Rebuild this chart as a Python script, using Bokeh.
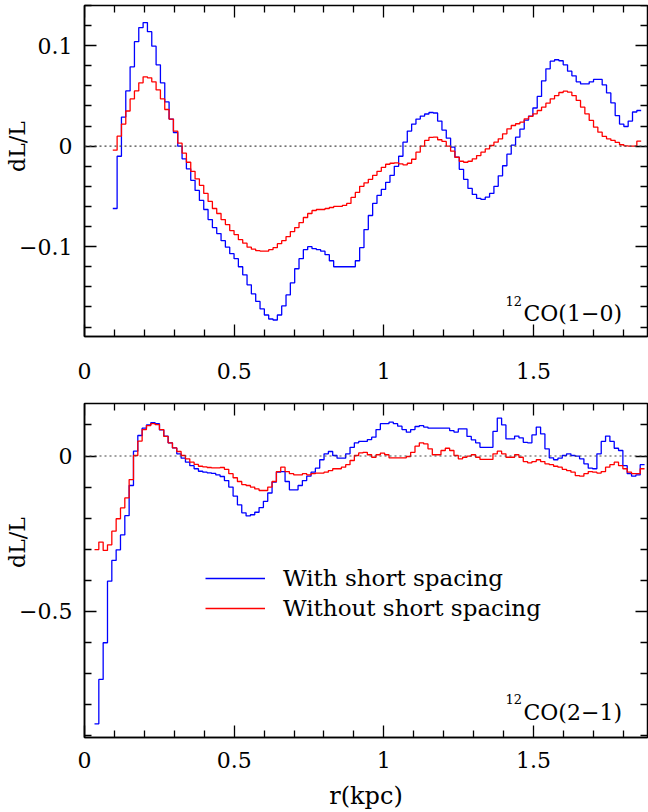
import numpy as np
from bokeh.plotting import figure
from bokeh.layouts import column
from bokeh.models import (Range1d, FixedTicker, LinearAxis, Span, Label,
                          Legend, LegendItem)
from bokeh.embed import file_html
from bokeh.resources import INLINE

# ---------------- data ----------------
R_TICKS = [0, 0.5, 1, 1.5]
R_TICK_LABELS = ["0", "0.5", "1", "1.5"]
R_MINOR = [0.1, 0.2, 0.3, 0.4, 0.6, 0.7, 0.8, 0.9, 1.1, 1.2, 1.3, 1.4, 1.6, 1.7, 1.8]
R_RANGE = (0, 1.881)

TOP_Y_RANGE = (-0.1894, 0.140)
TOP_Y_TICKS = [-0.1, 0, 0.1]
TOP_Y_TICK_LABELS = ["\u22120.1", "0", "0.1"]
TOP_Y_MINOR = [-0.18, -0.16, -0.14, -0.12, -0.08, -0.06, -0.04, -0.02,
               0.02, 0.04, 0.06, 0.08, 0.12, 0.14]

BOT_Y_RANGE = (-0.906, 0.169)
BOT_Y_TICKS = [-0.5, 0]
BOT_Y_TICK_LABELS = ["\u22120.5", "0"]
BOT_Y_MINOR = [-0.9, -0.8, -0.7, -0.6, -0.4, -0.3, -0.2, -0.1, 0.1]

BIN_WIDTH = 0.01447          # kpc, histogram bin width
TOP_R_START = 0.0945         # first bin edge, 12CO(1-0)
BOT_R_START = 0.0334         # first bin edge, 12CO(2-1)

TOP_WITH = [
    -0.062, -0.010, 0.029, 0.055, 0.079, 0.104, 0.118, 0.123, 0.114, 0.0995,
    0.081, 0.063, 0.044, 0.027, 0.0136, 0.000, -0.0126, -0.0225, -0.034, -0.044,
    -0.054, -0.063, -0.073, -0.081, -0.087, -0.094, -0.1005, -0.107, -0.112, -0.120,
    -0.128, -0.138, -0.147, -0.1545, -0.162, -0.168, -0.172, -0.173, -0.168, -0.159,
    -0.148, -0.136, -0.122, -0.112, -0.103, -0.100, -0.102, -0.103, -0.1045, -0.108,
    -0.114, -0.120, -0.120, -0.120, -0.120, -0.120, -0.114, -0.101, -0.083, -0.069,
    -0.057, -0.049, -0.043, -0.036, -0.029, -0.020, -0.010, 0.004, 0.015, 0.022,
    0.027, 0.030, 0.032, 0.0335, 0.033, 0.025, 0.016, 0.008, -0.001, -0.011,
    -0.023, -0.033, -0.042, -0.048, -0.052, -0.053, -0.0507, -0.047, -0.040, -0.0295,
    -0.0195, -0.008, 0.001, 0.009, 0.017, 0.026, 0.030, 0.038, 0.0495, 0.065,
    0.077, 0.0846, 0.086, 0.085, 0.081, 0.0746, 0.070, 0.064, 0.062, 0.062,
    0.064, 0.0664, 0.0664, 0.061, 0.053, 0.043, 0.0305, 0.022, 0.0196, 0.025,
    0.034, 0.0355,
]
TOP_WITHOUT = [
    -0.004, 0.010, 0.022, 0.035, 0.047, 0.055, 0.063, 0.069, 0.068, 0.064,
    0.056, 0.047, 0.0365, 0.027, 0.015, 0.003, -0.007, -0.016, -0.025, -0.0325,
    -0.039, -0.047, -0.055, -0.062, -0.067, -0.073, -0.078, -0.084, -0.088, -0.093,
    -0.0965, -0.1005, -0.1025, -0.104, -0.1045, -0.1045, -0.103, -0.101, -0.097, -0.094,
    -0.090, -0.085, -0.081, -0.076, -0.071, -0.067, -0.064, -0.063, -0.063, -0.062,
    -0.061, -0.060, -0.060, -0.059, -0.057, -0.051, -0.046, -0.040, -0.0365, -0.033,
    -0.029, -0.025, -0.021, -0.018, -0.017, -0.0166, -0.0176, -0.0186, -0.017, -0.013,
    -0.006, 0.000, 0.0057, 0.0087, 0.009, 0.0064, 0.0047, 0.000, -0.005, -0.011,
    -0.015, -0.016, -0.015, -0.0126, -0.0093, -0.006, -0.0027, 0.0007, 0.004, 0.0073,
    0.0123, 0.0173, 0.0206, 0.0223, 0.0239, 0.0272, 0.0296, 0.0322, 0.0355, 0.0388,
    0.0428, 0.0471, 0.0504, 0.0534, 0.0547, 0.0537, 0.0504, 0.0455, 0.0388, 0.0322,
    0.0256, 0.0189, 0.0139, 0.0097, 0.0073, 0.0057, 0.0037, 0.0014, 0.0004, 0.000,
    0.000, 0.005,
]
BOT_WITH = [
    -0.862, -0.719, -0.601, -0.403, -0.336, -0.302, -0.254, -0.192, -0.095, 0.0155,
    0.066, 0.0895, 0.100, 0.107, 0.104, 0.084, 0.064, 0.0425, 0.026, 0.007,
    -0.007, -0.020, -0.031, -0.041, -0.049, -0.052, -0.054, -0.056, -0.061, -0.066,
    -0.079, -0.100, -0.129, -0.157, -0.183, -0.193, -0.189, -0.181, -0.166, -0.146,
    -0.119, -0.084, -0.052, -0.050, -0.082, -0.109, -0.109, -0.095, -0.079, -0.065,
    -0.052, -0.039, -0.012, 0.007, 0.0145, 0.0016, -0.007, -0.007, 0.007, 0.028,
    0.0425, 0.047, 0.047, 0.053, 0.0605, 0.085, 0.104, 0.104, 0.109, 0.104,
    0.096, 0.085, 0.0766, 0.085, 0.095, 0.098, 0.093, 0.0895, 0.0895, 0.0895,
    0.0895, 0.0895, 0.082, 0.077, 0.0875, 0.0875, 0.063, 0.052, 0.0425, 0.028,
    0.028, 0.028, 0.079, 0.122, 0.100, 0.055, 0.055, 0.064, 0.0585, 0.044,
    0.0425, 0.068, 0.093, 0.071, 0.023, -0.006, -0.012, -0.007, 0.0016, 0.007,
    0.0016, -0.0005, -0.009, -0.025, -0.039, -0.041, 0.007, 0.047, 0.064, 0.047,
    0.025, 0.0177, -0.031, -0.057, -0.065, -0.061, -0.028,
]
BOT_WITHOUT = [
    -0.301, -0.277, -0.304, -0.286, -0.242, -0.202, -0.167, -0.135, -0.076, 0.0016,
    0.048, 0.085, 0.098, 0.104, 0.101, 0.085, 0.063, 0.0425, 0.026, 0.0145,
    0.0016, -0.009, -0.020, -0.027, -0.033, -0.035, -0.037, -0.038, -0.038, -0.037,
    -0.043, -0.057, -0.070, -0.082, -0.092, -0.095, -0.100, -0.106, -0.111, -0.111,
    -0.100, -0.082, -0.050, -0.036, -0.050, -0.057, -0.061, -0.061, -0.057, -0.061,
    -0.057, -0.055, -0.055, -0.052, -0.047, -0.041, -0.041, -0.036, -0.028, -0.0145,
    0.0016, 0.010, 0.012, 0.004, -0.004, 0.004, 0.009, 0.004, -0.006, -0.006,
    -0.006, -0.006, -0.0016, 0.012, 0.0315, 0.0425, 0.039, 0.023, 0.004, 0.004,
    0.0177, 0.025, 0.0177, 0.0016, -0.009, -0.004, -0.0005, 0.004, -0.004, -0.011,
    -0.011, -0.011, 0.007, 0.0155, 0.007, -0.004, -0.004, 0.004, -0.004, -0.018,
    -0.022, -0.018, -0.012, -0.018, -0.025, -0.028, -0.033, -0.036, -0.043, -0.047,
    -0.052, -0.063, -0.065, -0.057, -0.050, -0.052, -0.055, -0.050, -0.036, -0.028,
    -0.020, -0.031, -0.041, -0.052, -0.057, -0.057, -0.041,
]

SERIES_NAMES = ["With short spacing", "Without short spacing"]
PANEL_NAMES = [("12", "CO(1\u22120)"), ("12", "CO(2\u22121)")]
Y_LABEL = "dL/L"
X_LABEL = "r(kpc)"

# ---------------- styling ----------------
FONT = "DejaVu Serif"
BLUE = "#0000ff"
RED = "#ff0000"
TICK_COLOR = "black"
W = 648
NBSP = "\u00a0"


def edges(start, n):
    return start + BIN_WIDTH * np.arange(n + 1)


def tick_style(ax):
    ax.major_tick_in = 12
    ax.major_tick_out = 0
    ax.minor_tick_in = 7
    ax.minor_tick_out = 0
    ax.major_tick_line_color = TICK_COLOR
    ax.minor_tick_line_color = TICK_COLOR
    ax.major_tick_line_width = 1.3
    ax.minor_tick_line_width = 1.3
    ax.axis_line_color = "black"
    ax.axis_line_width = 1.5


def style_main_axis(ax, ticks, minor, labels, standoff):
    ax.ticker = FixedTicker(ticks=ticks, minor_ticks=minor)
    tick_style(ax)
    ax.major_label_overrides = {t: l for t, l in zip(ticks, labels)}
    ax.major_label_text_font = FONT
    ax.major_label_text_font_size = "22px"
    ax.major_label_text_color = "black"
    ax.major_label_standoff = standoff


def mirror_axes(p, side, ticks, minor, where):
    # tick marks only (no labels), pinned to the frame edge so they take no room
    a = LinearAxis(ticker=FixedTicker(ticks=[], minor_ticks=ticks), fixed_location=where)
    b = LinearAxis(ticker=FixedTicker(ticks=[], minor_ticks=minor), fixed_location=where)
    for ax, ln in ((a, 12), (b, 7)):
        tick_style(ax)
        ax.minor_tick_in = ln
        ax.major_label_standoff = 0
        ax.axis_line_color = None
        p.add_layout(ax, side)


def make_panel(height, border_bottom, yr, yticks, yminor, ylabels, x_standoff, pad):
    p = figure(width=W, height=height,
               x_range=Range1d(*R_RANGE), y_range=Range1d(*yr),
               output_backend="svg", toolbar_location=None,
               min_border_left=84, min_border_right=1,
               min_border_top=5, min_border_bottom=border_bottom)
    p.grid.visible = False
    p.outline_line_color = "black"
    p.outline_line_width = 1.5
    p.background_fill_color = "white"
    p.border_fill_color = "white"
    style_main_axis(p.below[0], R_TICKS, R_MINOR, R_TICK_LABELS, x_standoff)
    style_main_axis(p.left[0], yticks, yminor, ylabels, 12)
    mirror_axes(p, "above", R_TICKS, R_MINOR, yr[1])
    mirror_axes(p, "right", yticks, yminor, R_RANGE[1])
    ya = p.left[0]
    ya.axis_label = NBSP * pad + Y_LABEL
    ya.axis_label_text_font = FONT
    ya.axis_label_text_font_size = "22px"
    ya.axis_label_text_font_style = "normal"
    ya.axis_label_text_color = "black"
    ya.axis_label_standoff = -14
    p.add_layout(Span(location=0, dimension="width", line_color="#444444",
                      line_dash="2 3", line_width=1.2))
    return p


# ---- top panel: 12CO(1-0)
top = make_panel(398, 62, TOP_Y_RANGE, TOP_Y_TICKS, TOP_Y_MINOR,
                 TOP_Y_TICK_LABELS, 26, 7)
xt = edges(TOP_R_START, len(TOP_WITH))
top.step(xt, TOP_WITH + [TOP_WITH[-1]], mode="after", line_color=BLUE, line_width=1.3)
xt2 = edges(TOP_R_START, len(TOP_WITHOUT))
top.step(xt2, TOP_WITHOUT + [TOP_WITHOUT[-1]], mode="after", line_color=RED, line_width=1.3)
top.add_layout(Label(x=421, y=36, x_units="screen", y_units="screen",
                     text=PANEL_NAMES[0][0], text_font=FONT, text_font_size="13px",
                     text_color="black", text_baseline="alphabetic"))
top.add_layout(Label(x=439, y=23, x_units="screen", y_units="screen",
                     text=PANEL_NAMES[0][1], text_font=FONT, text_font_size="22px",
                     text_color="black", text_baseline="alphabetic"))

# ---- bottom panel: 12CO(2-1)
bot = make_panel(414, 75, BOT_Y_RANGE, BOT_Y_TICKS, BOT_Y_MINOR,
                 BOT_Y_TICK_LABELS, 14, 8)
xb = edges(BOT_R_START, len(BOT_WITH))
rb = bot.step(xb, BOT_WITH + [BOT_WITH[-1]], mode="after", line_color=BLUE, line_width=1.3)
xb2 = edges(BOT_R_START, len(BOT_WITHOUT))
rr = bot.step(xb2, BOT_WITHOUT + [BOT_WITHOUT[-1]], mode="after", line_color=RED, line_width=1.3)
xa = bot.below[0]
xa.axis_label = X_LABEL
xa.axis_label_text_font = FONT
xa.axis_label_text_font_size = "24px"
xa.axis_label_text_font_style = "normal"
xa.axis_label_text_color = "black"
xa.axis_label_standoff = 11
bot.add_layout(Label(x=421, y=39, x_units="screen", y_units="screen",
                     text=PANEL_NAMES[1][0], text_font=FONT, text_font_size="13px",
                     text_color="black", text_baseline="alphabetic"))
bot.add_layout(Label(x=439, y=25, x_units="screen", y_units="screen",
                     text=PANEL_NAMES[1][1], text_font=FONT, text_font_size="22px",
                     text_color="black", text_baseline="alphabetic"))

legend = Legend(items=[LegendItem(label=SERIES_NAMES[0], renderers=[rb]),
                       LegendItem(label=SERIES_NAMES[1], renderers=[rr])],
                location=(121, 116), orientation="vertical",
                border_line_color=None, background_fill_alpha=0,
                padding=0, margin=0, spacing=4,
                glyph_width=60, glyph_height=26, label_height=26,
                label_standoff=18, label_text_font=FONT,
                label_text_font_size="23px", label_text_color="black")
bot.add_layout(legend, "center")

layout = column(top, bot, spacing=0)
open("out.html", "w").write(file_html(layout, INLINE))
